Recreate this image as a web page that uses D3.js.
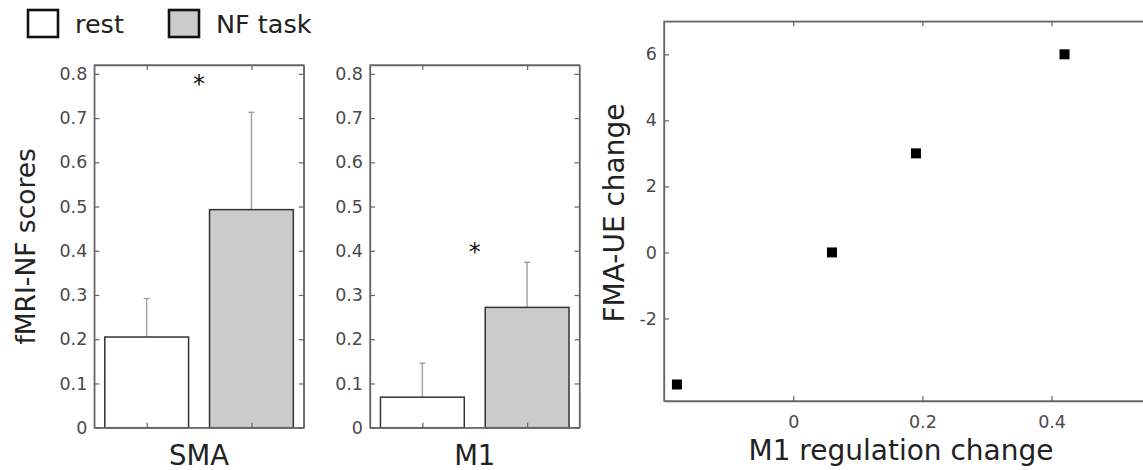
<!DOCTYPE html>
<html>
<head>
<meta charset="utf-8">
<script src="https://cdn.jsdelivr.net/npm/d3@7"></script>
<style>
  html, body { margin: 0; padding: 0; background: #fff; }
  svg { display: block; }
  text { font-family: "DejaVu Sans", sans-serif; }
</style>
</head>
<body>
<script>
// ---- data ----
const regions = ["SMA", "M1"];
const conditions = ["rest", "NF task"];
const restMeans = [0.205, 0.069];
const taskMeans = [0.493, 0.272];
const restErrTop = [0.292, 0.146];
const taskErrTop = [0.713, 0.374];
const sigLevel = [0.78, 0.40];
const barYTicks = [0, 0.1, 0.2, 0.3, 0.4, 0.5, 0.6, 0.7, 0.8];
const barYLabels = ["0", "0.1", "0.2", "0.3", "0.4", "0.5", "0.6", "0.7", "0.8"];

const m1Change = [-0.18, 0.06, 0.19, 0.42];
const fmaChange = [-4, 0, 3, 6];
const scatXTicks = [0, 0.2, 0.4];
const scatXLabels = ["0", "0.2", "0.4"];
const scatYTicks = [-2, 0, 2, 4, 6];
const scatYLabels = ["-2", "0", "2", "4", "6"];

// ---- styles ----
const axisColor = "#666";
const tickTextColor = "#4a4a4a";
const labelColor = "#222";
const fills = ["#ffffff", "#cbcbcb"];

const W = 1143, H = 470;
const svg = d3.select("body").append("svg").attr("width", W).attr("height", H);

// ---- legend ----
const legend = svg.append("g");
const legX = [28, 169];
conditions.forEach((c, i) => {
  legend.append("rect").attr("x", legX[i]).attr("y", 10).attr("width", 30).attr("height", 27)
    .attr("fill", fills[i]).attr("stroke", "#111").attr("stroke-width", 2.6);
  legend.append("text").attr("x", legX[i] + 47).attr("y", 33).attr("font-size", 25.5)
    .attr("fill", "#222").text(c);
});

// ---- bar panels ----
const panelLeft = [94.3, 370];
const panelW = 209.5;
const pTop = 65, pBottom = 427.7;
const y = d3.scaleLinear().domain([0, 0.82]).range([pBottom, pTop]);

regions.forEach((r, i) => {
  const g = svg.append("g");
  const x = d3.scaleLinear().domain([0.5, 2.5]).range([panelLeft[i], panelLeft[i] + panelW]);
  const bw = x(1.4) - x(1);

  const vals = [restMeans[i], taskMeans[i]];
  const tops = [restErrTop[i], taskErrTop[i]];

  // error bars (upper only)
  vals.forEach((v, k) => {
    const cx = x(k + 1);
    g.append("line").attr("x1", cx).attr("x2", cx).attr("y1", y(v)).attr("y2", y(tops[k]))
      .attr("stroke", "#a0a0a0").attr("stroke-width", 1.4);
    g.append("line").attr("x1", cx - 3).attr("x2", cx + 3).attr("y1", y(tops[k])).attr("y2", y(tops[k]))
      .attr("stroke", "#a0a0a0").attr("stroke-width", 1.4);
  });
  // bars
  vals.forEach((v, k) => {
    g.append("rect").attr("x", x(k + 1) - bw).attr("width", 2 * bw)
      .attr("y", y(v)).attr("height", y(0) - y(v))
      .attr("fill", fills[k]).attr("stroke", "#333").attr("stroke-width", 1.5);
  });

  // box
  g.append("rect").attr("x", x(0.5)).attr("y", y(0.82)).attr("width", x(2.5) - x(0.5))
    .attr("height", y(0) - y(0.82)).attr("fill", "none").attr("stroke", axisColor).attr("stroke-width", 1.3);

  // axes
  const left = g.append("g").attr("transform", `translate(${x(0.5)},0)`)
    .call(d3.axisLeft(y).tickValues(barYTicks).tickFormat((d, j) => barYLabels[j]).tickSize(-5).tickSizeOuter(0).tickPadding(7));
  const right = g.append("g").attr("transform", `translate(${x(2.5)},0)`)
    .call(d3.axisRight(y).tickValues(barYTicks).tickFormat("").tickSize(-5).tickSizeOuter(0));
  const bottom = g.append("g").attr("transform", `translate(0,${y(0)})`)
    .call(d3.axisBottom(x).tickValues([1, 2]).tickFormat("").tickSize(-5).tickSizeOuter(0));
  const top = g.append("g").attr("transform", `translate(0,${y(0.82)})`)
    .call(d3.axisTop(x).tickValues([1, 2]).tickFormat("").tickSize(-5).tickSizeOuter(0));
  [left, right, bottom, top].forEach(a => {
    a.select(".domain").attr("stroke", axisColor).attr("stroke-width", 1.3);
    a.selectAll(".tick line").attr("stroke", axisColor).attr("stroke-width", 1.2);
    a.selectAll(".tick text").attr("fill", tickTextColor).attr("font-size", 17.5)
      .attr("font-family", "DejaVu Sans, sans-serif");
  });

  // significance
  g.append("text").attr("x", x(1.5)).attr("y", y(sigLevel[i]) + 9).attr("text-anchor", "middle")
    .attr("font-size", 24).attr("fill", "#111").text("*");

  // category label
  g.append("text").attr("x", x(1.5)).attr("y", 465).attr("text-anchor", "middle")
    .attr("font-size", 27.5).attr("fill", labelColor).text(r);
});

// y label for bars
svg.append("text").attr("transform", `translate(35,${(pTop + pBottom) / 2}) rotate(-90)`)
  .attr("text-anchor", "middle").attr("font-size", 26.5).attr("fill", labelColor).text("fMRI-NF scores");

// ---- scatter ----
const sx = d3.scaleLinear().domain([-0.2, 0.6]).range([664, 664 + 0.8 * 646]);
const sy = d3.scaleLinear().domain([-4.5, 7]).range([401, 21.3]);
const sg = svg.append("g");
sg.append("rect").attr("x", sx(-0.2)).attr("y", sy(7)).attr("width", sx(0.6) - sx(-0.2))
  .attr("height", sy(-4.5) - sy(7)).attr("fill", "none").attr("stroke", axisColor).attr("stroke-width", 1.3);

const sl = sg.append("g").attr("transform", `translate(${sx(-0.2)},0)`)
  .call(d3.axisLeft(sy).tickValues(scatYTicks).tickFormat((d, j) => scatYLabels[j]).tickSize(-5).tickSizeOuter(0).tickPadding(7));
const sb = sg.append("g").attr("transform", `translate(0,${sy(-4.5)})`)
  .call(d3.axisBottom(sx).tickValues(scatXTicks).tickFormat((d, j) => scatXLabels[j]).tickSize(-5).tickSizeOuter(0).tickPadding(15));
const st = sg.append("g").attr("transform", `translate(0,${sy(7)})`)
  .call(d3.axisTop(sx).tickValues(scatXTicks).tickFormat("").tickSize(-5).tickSizeOuter(0));
[sl, sb, st].forEach(a => {
  a.select(".domain").attr("stroke", axisColor).attr("stroke-width", 1.3);
  a.selectAll(".tick line").attr("stroke", axisColor).attr("stroke-width", 1.2);
  a.selectAll(".tick text").attr("fill", tickTextColor).attr("font-size", 17.5)
    .attr("font-family", "DejaVu Sans, sans-serif");
});
sb.selectAll(".tick text").attr("dy", "0.71em");

const ms = 10;
sg.selectAll("rect.pt").data(m1Change.map((d, i) => [d, fmaChange[i]])).join("rect")
  .attr("class", "pt").attr("x", d => sx(d[0]) - ms / 2).attr("y", d => sy(d[1]) - ms / 2)
  .attr("width", ms).attr("height", ms).attr("fill", "#000");

svg.append("text").attr("transform", `translate(624,213) rotate(-90)`)
  .attr("text-anchor", "middle").attr("font-size", 28).attr("fill", labelColor).text("FMA-UE change");
svg.append("text").attr("x", 901).attr("y", 460).attr("text-anchor", "middle")
  .attr("font-size", 28).attr("fill", labelColor).text("M1 regulation change");
</script>
</body>
</html>
